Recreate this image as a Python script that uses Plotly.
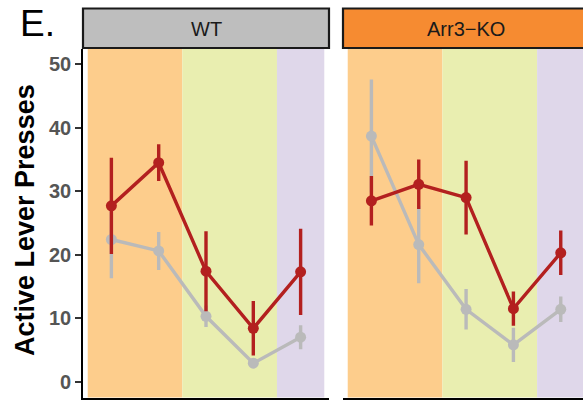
import plotly.graph_objects as go

# Sessions along the x axis
sessions = [1, 2, 3, 4, 5]

# Mean active lever presses (+/- SEM) per genotype
wt_grey_mean = [22.4, 20.6, 10.3, 2.9, 7.0]
wt_grey_sem = [6.1, 3.0, 1.7, 0.5, 1.9]
wt_red_mean = [27.7, 34.5, 17.4, 8.4, 17.3]
wt_red_sem = [7.6, 2.9, 6.3, 4.3, 6.8]

ko_grey_mean = [38.7, 21.6, 11.4, 5.8, 11.4]
ko_grey_sem = [8.9, 6.1, 3.2, 2.7, 2.0]
ko_red_mean = [28.5, 31.1, 29.0, 11.5, 20.3]
ko_red_sem = [3.9, 3.9, 5.8, 2.7, 3.5]

# Phase shading: boundaries on the session axis and fill colours
phase_edges = [0.5, 2.5, 4.5, 5.5]
phase_colors = ["#FDCD8C", "#E9EEB0", "#DFD7EA"]

panel_titles = ["WT", "Arr3\u2212KO"]
strip_colors = ["#BEBEBE", "#F68B31"]

y_ticks = [0, 10, 20, 30, 40, 50]

GREY = "#BABABA"
RED = "#B3201F"

W, H = 583, 400


def px_x(p):
    return p / W


def px_y(p):
    return 1 - p / H


fig = go.Figure()

panels = [
    ("x", "y", wt_grey_mean, wt_grey_sem, wt_red_mean, wt_red_sem),
    ("x2", "y2", ko_grey_mean, ko_grey_sem, ko_red_mean, ko_red_sem),
]

for xa, ya, gm, gs, rm, rs in panels:
    for mean, sem, col, name in [(gm, gs, GREY, "Group 1"), (rm, rs, RED, "Group 2")]:
        fig.add_trace(go.Scatter(
            x=sessions, y=mean, xaxis=xa, yaxis=ya, name=name,
            mode="lines+markers",
            line=dict(color=col, width=3.4),
            marker=dict(color=col, size=11),
            error_y=dict(type="data", array=sem, visible=True,
                         color=col, thickness=3.4, width=0),
            showlegend=False,
        ))
    # background phases
    for i, c in enumerate(phase_colors):
        fig.add_shape(type="rect", xref=xa, yref=f"{ya} domain",
                      x0=phase_edges[i], x1=phase_edges[i + 1], y0=0, y1=1,
                      fillcolor=c, line_width=0, layer="below")

# facet strips
strip_bounds = [(83, 329), (343, 600)]
for (l, r), title, col in zip(strip_bounds, panel_titles, strip_colors):
    fig.add_shape(type="rect", xref="paper", yref="paper",
                  x0=px_x(l), x1=px_x(r), y0=px_y(48), y1=px_y(8.5),
                  fillcolor=col, line=dict(color="#1A1A1A", width=2.2))
    fig.add_annotation(xref="paper", yref="paper",
                       x=px_x((l + min(r, 589)) / 2), y=px_y(29),
                       text=title, showarrow=False,
                       font=dict(family="Liberation Sans, Arial", size=20, color="#1A1A1A"),
                       xanchor="center", yanchor="middle")

# y axis title and panel letter
fig.add_annotation(xref="paper", yref="paper", x=px_x(25), y=px_y(220),
                   text="<b>Active Lever Presses</b>", textangle=-90,
                   showarrow=False, xanchor="center", yanchor="middle",
                   font=dict(family="Liberation Sans, Arial", size=27, color="#000000"))
fig.add_annotation(xref="paper", yref="paper", x=px_x(18), y=px_y(23),
                   text="E.", showarrow=False, xanchor="left", yanchor="middle",
                   font=dict(family="Liberation Sans, Arial", size=37, color="#000000"))

ydom = [px_y(397.5), px_y(48.5)]
fig.update_layout(
    width=W, height=H,
    margin=dict(l=0, r=0, t=0, b=0),
    paper_bgcolor="white", plot_bgcolor="white",
    xaxis=dict(domain=[px_x(83), px_x(329)], range=[0.4, 5.6],
               showgrid=False, zeroline=False, showticklabels=False, ticks="",
               showline=True, linecolor="#000000", linewidth=1.6),
    xaxis2=dict(domain=[px_x(343), 1], range=[0.4, 5.47], anchor="y2",
                showgrid=False, zeroline=False, showticklabels=False, ticks="",
                showline=True, linecolor="#000000", linewidth=1.6),
    yaxis=dict(domain=ydom, range=[-2.5, 52.5], tickvals=y_ticks,
               showgrid=False, zeroline=False,
               showline=True, linecolor="#000000", linewidth=1.6,
               ticks="outside", ticklen=6, tickwidth=1.6, tickcolor="#333333",
               tickfont=dict(family="Liberation Sans, Arial", size=20,
                             color="#555555", weight="bold")),
    yaxis2=dict(domain=ydom, range=[-2.5, 52.5], anchor="x2", matches="y",
                showgrid=False, zeroline=False, showticklabels=False,
                showline=False, ticks=""),
)

fig.write_html("out.html")
